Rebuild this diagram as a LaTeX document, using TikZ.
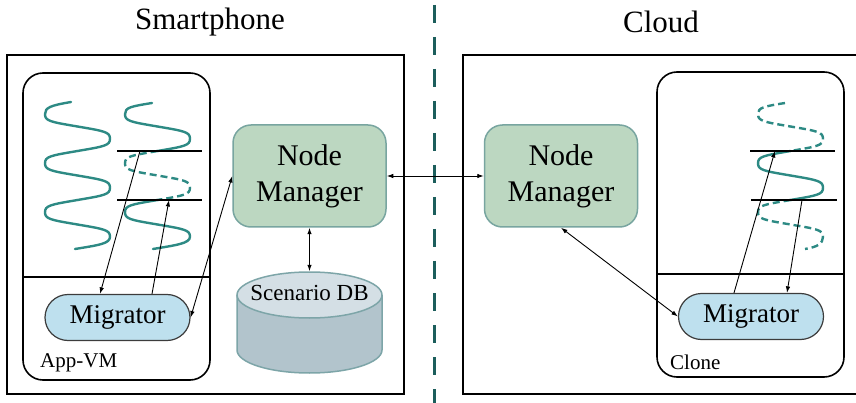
\documentclass[tikz,border=0pt]{standalone}
\usepackage{fontspec}
\setmainfont{Liberation Serif}
\usetikzlibrary{arrows.meta,shapes.geometric}

\definecolor{snake}{RGB}{45,138,132}
\definecolor{divider}{RGB}{28,94,92}
\definecolor{nmfill}{RGB}{188,215,193}
\definecolor{nmdraw}{RGB}{120,165,160}
\definecolor{migfill}{RGB}{190,224,238}
\definecolor{migdraw}{RGB}{60,60,60}
\definecolor{dbbody}{RGB}{178,196,204}
\definecolor{dbtop}{RGB}{212,223,229}
\definecolor{dbdraw}{RGB}{125,165,168}

\tikzset{
  frame/.style={draw=black, line width=1.6pt},
  vmbox/.style={draw=black, line width=1.6pt, rounded corners=20pt},
  thread/.style={draw=snake, line width=2.4pt, line cap=round},
  parked/.style={thread, dash pattern=on 7pt off 4pt, line cap=butt},
  cutline/.style={draw=black, line width=2.4pt},
  arr/.style={draw=black, line width=0.9pt, -{Latex[length=6.5pt,width=4.5pt]}},
  dbl/.style={draw=black, line width=0.9pt, {Latex[length=6.5pt,width=4.5pt]}-{Latex[length=6.5pt,width=4.5pt]}},
  nm/.style={rectangle, rounded corners=18pt, minimum width=153pt, minimum height=102pt,
    fill=nmfill, draw=nmdraw, line width=1.5pt, align=center,
    font=\fontsize{30}{36}\selectfont},
  mig/.style={rectangle, rounded corners=23pt, minimum width=145pt, minimum height=46pt,
    fill=migfill, draw=migdraw, line width=1.2pt, font=\fontsize{27}{30}\selectfont},
  title/.style={font=\fontsize{31}{34}\selectfont, inner sep=0pt},
  vmlabel/.style={font=\fontsize{21}{24}\selectfont, inner sep=0pt, anchor=west},
}

\begin{document}
\begin{tikzpicture}[x=1pt, y=-1pt]
\useasboundingbox (0,0) rectangle (856,403);

% titles
\node[title] (tphone) at (210,22) {Smartphone};
\node[title] (tcloud) at (661,22) {Cloud};

% device / cloud frames
\draw[frame] (7,55) rectangle (404,394);
\draw[frame] (870,55) -- (463,55) -- (463,394) -- (870,394);

% network boundary
\draw[draw=divider, line width=3pt, dash pattern=on 18pt off 14pt] (434,5) -- (434,403);

% application VM and its clone
\draw[vmbox] (23,73) rectangle (210,380);
\draw[frame] (23,277) -- (210,277);
\draw[vmbox] (657,72) rectangle (844,377);
\draw[frame] (657,274) -- (844,274);

% threads on the phone (each turn: sloping run, round end, sloping run)
\draw[thread] (71,102) .. controls +(-20.5,3.5) and +(0,-6.8) .. (45,114.25)
  .. controls +(0,6.8) and +(-27,-4.6) .. (77.5,126.5)
  .. controls +(27,4.6) and +(0,-6.8) .. (110,138.75)
  .. controls +(0,6.8) and +(27,-4.6) .. (77.5,151)
  .. controls +(-27,4.6) and +(0,-6.8) .. (45,163.25)
  .. controls +(0,6.8) and +(-27,-4.6) .. (77.5,175.5)
  .. controls +(27,4.6) and +(0,-6.8) .. (110,187.75)
  .. controls +(0,6.8) and +(27,-4.6) .. (77.5,200)
  .. controls +(-27,4.6) and +(0,-6.8) .. (45,212.25)
  .. controls +(0,6.8) and +(-27,-4.6) .. (77.5,224.5)
  .. controls +(27,4.6) and +(0,-6.8) .. (110,236.75)
  .. controls +(0,6.8) and +(24.5,-4) .. (75,249);

\draw[thread] (152,103) .. controls +(-21.5,3.5) and +(0,-6.8) .. (125,114.25)
  .. controls +(0,6.8) and +(-27,-4.6) .. (157.5,126.5)
  .. controls +(27,4.6) and +(0,-6.8) .. (190,138.75)
  .. controls +(0,6.8) and +(27,-4.6) .. (157.5,151);
\draw[parked] (157.5,151) .. controls +(-27,4.6) and +(0,-6.8) .. (125,163.25)
  .. controls +(0,6.8) and +(-27,-4.6) .. (157.5,175.5)
  .. controls +(27,4.6) and +(0,-6.8) .. (190,187.75)
  .. controls +(0,6.8) and +(27,-4.6) .. (157.5,200);
\draw[thread] (157.5,200) .. controls +(-27,4.6) and +(0,-6.8) .. (125,212.25)
  .. controls +(0,6.8) and +(-27,-4.6) .. (157.5,224.5)
  .. controls +(27,4.6) and +(0,-6.8) .. (190,236.75)
  .. controls +(0,6.8) and +(22.5,-3.8) .. (153,249);

% thread in the clone
\draw[parked] (785,103) .. controls +(-21.5,3.5) and +(0,-6.8) .. (758,114.25)
  .. controls +(0,6.8) and +(-27,-4.6) .. (790.5,126.5)
  .. controls +(27,4.6) and +(0,-6.8) .. (823,138.75)
  .. controls +(0,6.8) and +(27,-4.6) .. (790.5,151);
\draw[thread] (790.5,151) .. controls +(-27,4.6) and +(0,-6.8) .. (758,163.25)
  .. controls +(0,6.8) and +(-27,-4.6) .. (790.5,175.5)
  .. controls +(27,4.6) and +(0,-6.8) .. (823,187.75)
  .. controls +(0,6.8) and +(27,-4.6) .. (790.5,200);
\draw[parked] (790.5,200) .. controls +(-27,4.6) and +(0,-6.8) .. (758,212.25)
  .. controls +(0,6.8) and +(-27,-4.6) .. (790.5,224.5)
  .. controls +(27,4.6) and +(0,-6.8) .. (823,236.75)
  .. controls +(0,6.8) and +(12.5,-2) .. (805,249);

% migration points
\draw[cutline] (117,151) -- (202,151);
\draw[cutline] (117,200) -- (202,200);
\draw[cutline] (750,151) -- (835,151);
\draw[cutline] (751,200) -- (837,200);

\coordinate (cutA) at (140,151);
\coordinate (cutB) at (169,200);
\coordinate (cutC) at (775,151);
\coordinate (cutD) at (802,200);

% scenario database
\fill[dbbody] (237,295) -- (237,350) arc[start angle=180, end angle=360, x radius=72.5pt, y radius=23pt] -- (382,295) -- cycle;
\draw[dbdraw, line width=1.5pt] (237,295) -- (237,350) arc[start angle=180, end angle=360, x radius=72.5pt, y radius=23pt] -- (382,295);
\node[ellipse, draw=dbdraw, fill=dbtop, line width=1.5pt, minimum width=145pt, minimum height=46pt, inner sep=0pt] (db) at (309.5,295) {};
\node[font=\fontsize{23}{26}\selectfont, inner sep=0pt] (dbtext) at (309.5,293) {Scenario DB};

% managers and migrators
\node[nm] (nmL) at (309.5,176) {Node\\Manager};
\node[nm] (nmR) at (561,176) {Node\\Manager};
\node[mig] (migL) at (117.5,317.5) {Migrator};
\node[mig] (migR) at (751,316.5) {Migrator};

\node[vmlabel] (appvm) at (40,363) {App-VM};
\node[vmlabel] (clone) at (670,362) {Clone};

% connectors
\draw[dbl] (nmL.east) -- (nmR.west);
\draw[dbl] (nmL.south) -- (db.north);
\draw[dbl] (migL.east) -- (nmL.west);
\draw[dbl] (nmR.south) -- (migR.west);

\draw[arr] (cutA) -- ([xshift=-17.5pt]migL.north);
\draw[arr] ([xshift=34.5pt]migL.north) -- (cutB);
\draw[arr] ([xshift=-17pt]migR.north) -- (cutC);
\draw[arr] (cutD) -- ([xshift=36pt]migR.north);
\end{tikzpicture}
\end{document}
